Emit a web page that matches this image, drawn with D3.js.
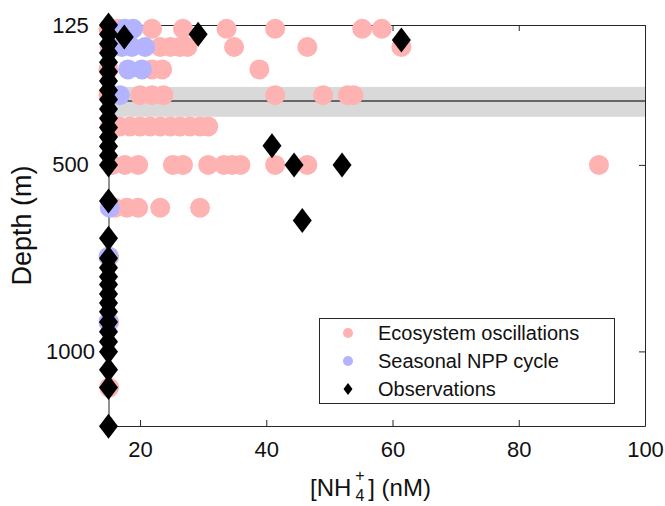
<!DOCTYPE html>
<html>
<head>
<meta charset="utf-8">
<script src="https://cdn.jsdelivr.net/npm/d3@7"></script>
<style>
  body { margin: 0; background: #fff; }
  svg { display: block; font-family: "Liberation Sans", Arial, sans-serif; }
</style>
</head>
<body>
<div id="chart"></div>
<script>
// ---- data ----
// model depth levels (m) and NH4+ (nM) per level
const oscDepths = [135, 184, 244, 313, 397, 500, 615, 746, 921, 1097];
const oscValues = [
  [15, 16.5, 21.9, 26.8, 33.7, 41.4, 55.2, 58.3],
  [15.2, 23.2, 24.8, 26.3, 27.5, 34.9, 46.5, 61.4],
  [15, 21.9, 23.5, 38.9],
  [15, 20, 21.9, 23.7, 41.4, 49.0, 52.9, 53.8],
  [15.2, 16.8, 18.4, 20, 21.6, 23.2, 24.8, 26.3, 27.9, 29.5, 30.8],
  [15.6, 17.6, 19.7, 25.2, 26.8, 30.8, 33.3, 34.6, 35.9, 41.4, 46.5, 92.7],
  [16, 17.9, 19.7, 23.2, 29.5],
  [15.1],
  [15.1],
  [15.1]
];
const nppDepths = [135, 184, 244, 313, 615, 746, 921];
const nppValues = [
  [17.6, 18.9],
  [17.1, 18.7, 20.8],
  [18.1, 20.3],
  [16.8],
  [15.2],
  [15],
  [15]
];
const obsDepth = [125, 150, 175, 200, 225, 250, 275, 300, 325, 350, 375, 400, 425, 450, 475, 500,
  597, 697, 750, 776, 800, 821, 846, 870, 894, 921, 947, 974, 1001, 1049, 1097, 1201,
  150, 157, 165, 449, 500, 500, 649];
const obsNH4 = [15, 15, 15, 15, 15, 15, 15, 15, 15, 15, 15, 15, 15, 15, 15, 15,
  15, 15, 15, 15, 15, 15, 15, 15, 15, 15, 15, 15, 15, 15, 15, 15,
  29.2, 17.5, 61.4, 40.9, 44.4, 52.0, 45.7];
const mldDepth = 329;
const mldRange = [291, 371];
const xTicks = [20, 40, 60, 80, 100];
const yTicks = [125, 500, 1000];
const legendLabels = ["Ecosystem oscillations", "Seasonal NPP cycle", "Observations"];

const pink = "#ffb2b2", blue = "#b3b3ff", axisCol = "#262626";

const width = 665, height = 506;
const plotL = 108.5, plotR = 645, plotT = 25, plotB = 426;

const svg = d3.select("#chart").append("svg")
  .attr("width", width)
  .attr("height", height);

const x = d3.scaleLinear().domain([15, 100]).range([plotL, plotR]);
const y = d3.scaleLinear().domain([125, 1200]).range([plotT, plotB]);

// flatten rows into points
const oscPts = oscDepths.flatMap((d, i) => oscValues[i].map(v => ({ depth: d, v })));
const nppPts = nppDepths.flatMap((d, i) => nppValues[i].map(v => ({ depth: d, v })));
const obsPts = obsDepth.map((d, i) => ({ depth: d, v: obsNH4[i] }));

// mixed layer band + line
svg.append("rect")
  .attr("x", x(15)).attr("width", x(100) - x(15))
  .attr("y", y(mldRange[0])).attr("height", y(mldRange[1]) - y(mldRange[0]))
  .attr("fill", "#d9d9d9");
svg.append("line")
  .attr("x1", x(15)).attr("x2", x(100))
  .attr("y1", y(mldDepth)).attr("y2", y(mldDepth))
  .attr("stroke", "#666").attr("stroke-width", 2);

// axes (ticks inward, box all round)
function styleAxis(g) {
  g.attr("font-family", null);
  g.selectAll(".domain").attr("stroke", axisCol);
  g.selectAll(".tick line").attr("stroke", axisCol);
  g.selectAll("text").attr("fill", "#111").style("font-size", "22px");
}
svg.append("g").attr("transform", `translate(0,${plotB})`)
  .call(d3.axisBottom(x).tickValues(xTicks).tickSizeInner(-6).tickSizeOuter(0).tickPadding(15))
  .call(styleAxis);
svg.append("g").attr("transform", `translate(0,${plotT})`)
  .call(d3.axisTop(x).tickValues(xTicks).tickSizeInner(-6).tickSizeOuter(0).tickFormat(""))
  .call(styleAxis);
svg.append("g").attr("transform", `translate(${plotL},0)`)
  .call(d3.axisLeft(y).tickValues(yTicks).tickSizeInner(-6).tickSizeOuter(0).tickFormat(d3.format("d")))
  .call(styleAxis)
  .call(g => g.selectAll("text").attr("text-anchor", "middle").attr("x", -38));
svg.append("g").attr("transform", `translate(${plotR},0)`)
  .call(d3.axisRight(y).tickValues(yTicks).tickSizeInner(-6).tickSizeOuter(0).tickFormat(""))
  .call(styleAxis);

// ecosystem oscillations
svg.append("g").selectAll("circle")
  .data(oscPts).enter().append("circle")
  .attr("cx", d => x(d.v)).attr("cy", d => y(d.depth))
  .attr("r", 10).attr("fill", pink);

// seasonal NPP cycle
svg.append("g").selectAll("circle")
  .data(nppPts).enter().append("circle")
  .attr("cx", d => x(d.v)).attr("cy", d => y(d.depth))
  .attr("r", 10).attr("fill", blue);

// observations
const diamond = (w, h) => `M0,${-h}L${w},0L0,${h}L${-w},0Z`;
svg.append("g").selectAll("path")
  .data(obsPts).enter().append("path")
  .attr("transform", d => `translate(${x(d.v)},${y(d.depth)})`)
  .attr("d", diamond(9.5, 12.5))
  .attr("fill", "#000");

// axis titles
const xl = svg.append("text")
  .attr("x", 310).attr("y", 496)
  .style("font-size", "24px").attr("fill", "#111");
xl.append("tspan").text("[NH");
xl.append("tspan").text("+").style("font-size", "16px").attr("dx", 4).attr("dy", -15);
xl.append("tspan").text("4").style("font-size", "16px").attr("dx", -9.3).attr("dy", 20);
xl.append("tspan").text("] (nM)").attr("dx", 4).attr("dy", -5);

svg.append("text")
  .attr("transform", `translate(31,${(plotT + plotB) / 2}) rotate(-90)`)
  .attr("text-anchor", "middle")
  .style("font-size", "27px").attr("fill", "#111")
  .text("Depth (m)");

// legend
const lg = svg.append("g");
lg.append("rect")
  .attr("x", 319.5).attr("y", 318.5).attr("width", 295).attr("height", 85)
  .attr("fill", "#fff").attr("stroke", axisCol);
const ly = [333, 361, 389];
lg.append("circle").attr("cx", 348).attr("cy", ly[0]).attr("r", 5).attr("fill", pink);
lg.append("circle").attr("cx", 348).attr("cy", ly[1]).attr("r", 5).attr("fill", blue);
lg.append("path").attr("transform", `translate(348,${ly[2]})`).attr("d", diamond(4.5, 6)).attr("fill", "#000");
lg.selectAll("text.lab")
  .data(legendLabels).enter().append("text")
  .attr("class", "lab")
  .attr("x", 378).attr("y", (d, i) => ly[i]).attr("dy", "0.35em")
  .style("font-size", "20px").attr("fill", "#111")
  .text(d => d);
</script>
</body>
</html>
